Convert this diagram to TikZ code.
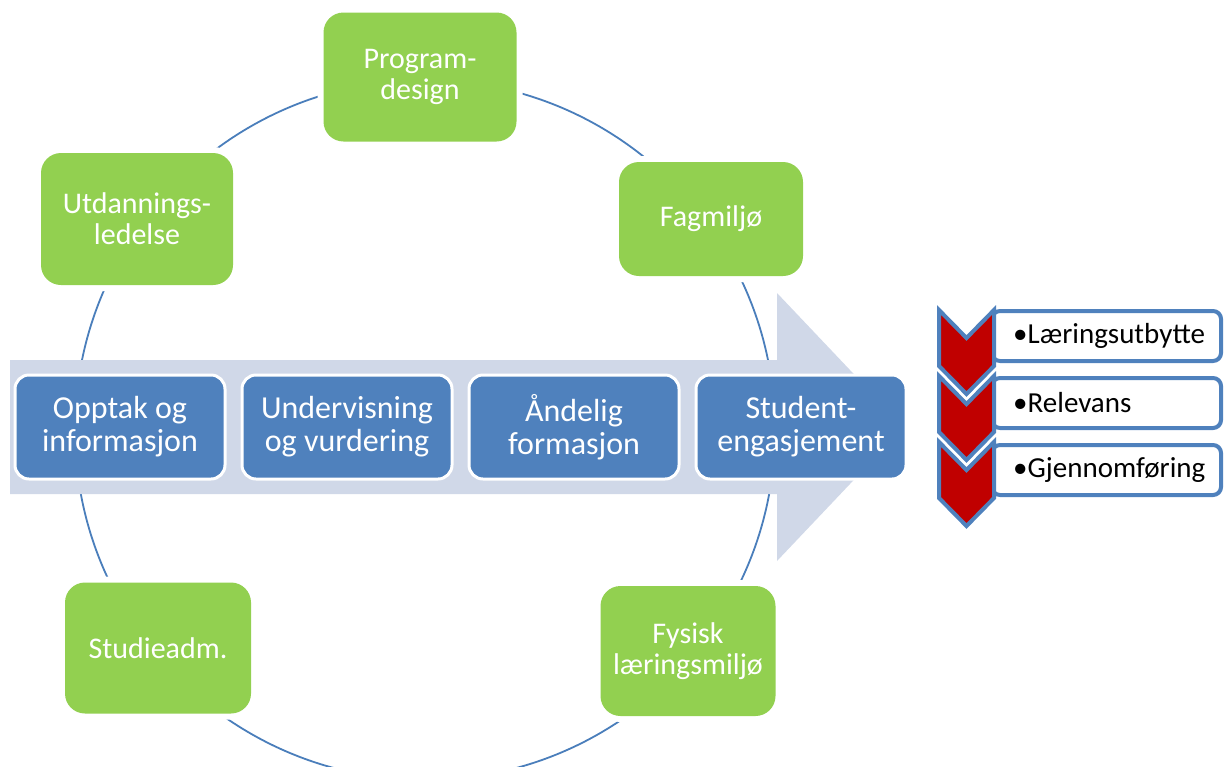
\documentclass[tikz,border=0pt]{standalone}
\usepackage{fontspec}
\setmainfont{Carlito}
\usepackage{tikz}
\usetikzlibrary{positioning}
\usetikzlibrary{math}
\usetikzlibrary{calc}

\definecolor{leafgreen}{HTML}{92D050}
\definecolor{stepblue}{HTML}{4F81BD}
\definecolor{arrowgrey}{HTML}{D0D8E8}
\definecolor{ringblue}{HTML}{4A7EBB}
\definecolor{chevred}{HTML}{C00000}

\tikzset{
  areabox/.style={fill=leafgreen, rounded corners=20pt, text=white, align=center,
    font=\fontsize{30}{31}\selectfont,
    preaction={draw=white, line width=12pt}},
  stepbox/.style={fill=stepblue, draw=white, line width=3pt, rounded corners=14pt,
    minimum width=210pt, minimum height=104pt, text=white, align=center,
    font=\fontsize{32}{33}\selectfont},
  listbox/.style={fill=white, draw=stepblue, line width=4pt, rounded corners=8pt,
    minimum width=229pt, minimum height=50pt},
  listtext/.style={anchor=west, xshift=19pt, font=\fontsize{29}{30}\selectfont},
  chevron/.style={fill=chevred, draw=stepblue, line width=4pt, line join=miter},
}

\begin{document}
\begin{tikzpicture}[x=1pt,y=-1pt,line width=1.8pt]

  \tikzmath{
    \cx     = 425;  % centre of the ring
    \cy     = 430;
    \radius = 350;  % radius of the ring
    \ta     = 310;  % top of first chevron
    \tb     = 376;  % top of second chevron
    \tc     = 442;  % top of third chevron
  }

  \useasboundingbox (0,0) rectangle (1225,766);

  % Ring through the quality areas
  \coordinate (C) at (\cx,\cy);
  \draw[ringblue] (C) circle [radius=\radius pt];

  % Quality areas on the ring
  \node[areabox, minimum width=193pt, minimum height=129pt] (pd) at (420,77) {Program-\\design};
  \node[areabox, minimum width=184pt, minimum height=114pt] (fm) at (711,219) {Fagmiljø};
  \node[areabox, minimum width=175pt, minimum height=130pt] (fl) at (688,651) {Fysisk\\læringsmiljø};
  \node[areabox, minimum width=186pt, minimum height=131pt] (sa) at (158,648) {Studieadm.};
  \node[areabox, minimum width=192pt, minimum height=132pt] (ul) at (137,219) {Utdannings-\\ledelse};

  % Big arrow under the steps
  \fill[arrowgrey] (10,360) -- (777,360) -- (777,293) -- (904,427) -- (777,561) -- (777,494) -- (10,494) -- cycle;

  % Steps on the arrow
  \node[stepbox] (oi) at (120,427) {Opptak og\\informasjon};
  \node[stepbox, right=14pt of oi] (uv) {Undervisning\\og vurdering};
  \node[stepbox, right=14pt of uv] (af) {Åndelig\\formasjon};
  \node[stepbox, right=14pt of af] (se) {Student-\\engasjement};

  % Outcome list
  \node[listbox, label={[listtext]west:•Læringsutbytte}] (lu) at (1106.5,336) {};
  \node[listbox, label={[listtext]west:•Relevans}] (rv) at (1106.5,403) {};
  \node[listbox, label={[listtext]west:•Gjennomføring}] (gf) at (1106.5,470) {};

  % Chevrons in front of the list
  \draw[chevron] (939,\ta) -- (966.5,\ta+28) -- (994,\ta) -- (994,\ta+56) -- (966.5,\ta+84) -- (939,\ta+56) -- cycle;
  \draw[chevron] (939,\tb) -- (966.5,\tb+28) -- (994,\tb) -- (994,\tb+56) -- (966.5,\tb+84) -- (939,\tb+56) -- cycle;
  \draw[chevron] (939,\tc) -- (966.5,\tc+28) -- (994,\tc) -- (994,\tc+56) -- (966.5,\tc+84) -- (939,\tc+56) -- cycle;

\end{tikzpicture}
\end{document}
